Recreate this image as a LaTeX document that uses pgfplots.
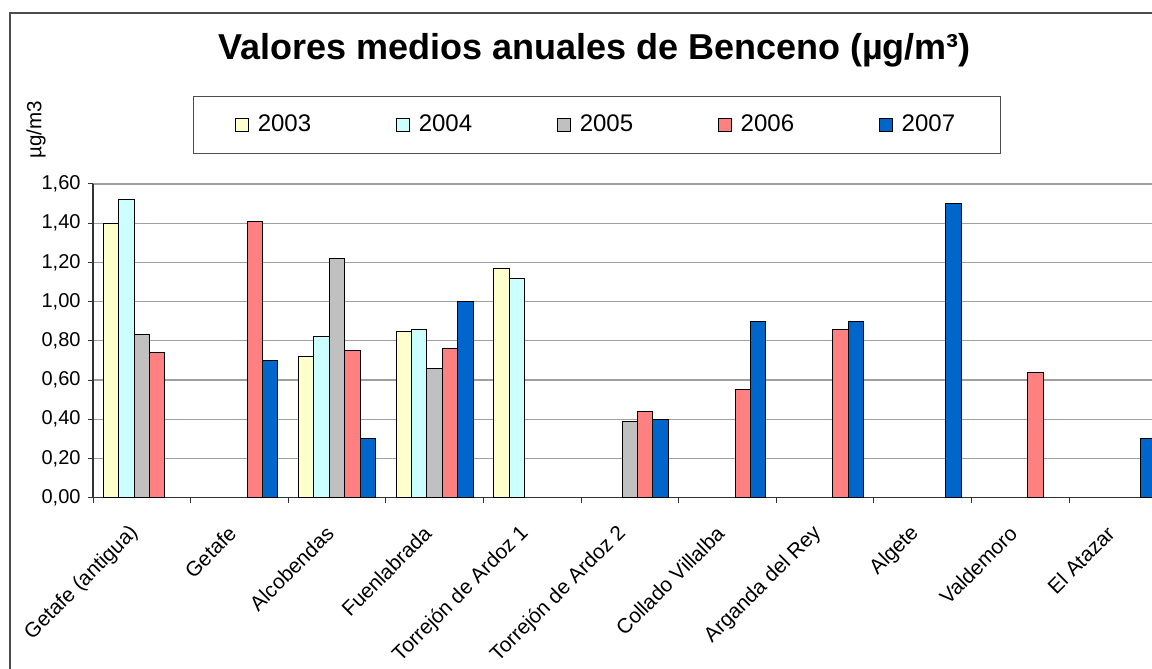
\documentclass[border=0pt]{standalone}
\usepackage{pgfplots}
\pgfplotsset{compat=1.18}
\usepackage{fontspec}
\setmainfont{Liberation Sans}
\definecolor{c03}{HTML}{FFFFCC}
\definecolor{c04}{HTML}{CCFFFF}
\definecolor{c05}{HTML}{C0C0C0}
\definecolor{c06}{HTML}{FF8080}
\definecolor{c07}{HTML}{0066CC}
\definecolor{gridc}{HTML}{A0A0A0}
\definecolor{framec}{HTML}{4D4D4D}
\pgfplotsset{sqlegend/.style={legend image code/.code={\draw[##1,draw=black,line width=0.5pt] (0pt,-3.2pt) rectangle (6.4pt,3.2pt);}}}
\begin{document}
\begin{tikzpicture}
\path[use as bounding box] (0,0) rectangle (576pt,334.5pt);
\clip (0,0) rectangle (576pt,334.5pt);
\begin{scope}[x=0.5pt,y=0.5pt]
 \fill[white] (0,0) rectangle (1152,669);
 \draw[framec, line width=0.6pt] (10,-20) -- (10,656) -- (1200,656);
 \node[font=\bfseries\fontsize{18}{20}\selectfont, anchor=base] at (594.5,609) {Valores medios anuales de Benceno (µg/m³)};
 \node[rotate=90, font=\fontsize{10.3}{12}\selectfont] at (36,539) {µg/m3};
\end{scope}
\begin{axis}[
  at={(46.5pt,85.65pt)}, anchor=south west,
  scale only axis, width=536.8pt, height=156.85pt,
  xmin=-0.5, xmax=10.5, ymin=0, ymax=1.6,
  ybar=0pt, bar width=0.158,
  axis lines*=left,
  axis line style={black!80, line width=0.6pt},
  tick align=outside,
  xtick={0,...,10},
  xticklabels={Getafe (antigua),Getafe,Alcobendas,Fuenlabrada,Torrejón de Ardoz 1,Torrejón de Ardoz 2,Collado Villalba,Arganda del Rey,Algete,Valdemoro,El Atazar},
  major x tick style={draw=none},
  minor xtick={-0.5,0.5,...,10.5},
  minor tick length=2.5pt,
  minor x tick style={black!80, line width=0.5pt},
  major tick length=2.7pt,
  ytick={0,0.2,0.4,0.6,0.8,1.0,1.2,1.4,1.6},
  y tick style={black!80, line width=0.5pt},
  ymajorgrids,
  grid style={gridc, line width=0.6pt},
  xticklabel style={xshift=-1pt, yshift=-11pt, rotate=45, anchor=east, font=\fontsize{10.4}{12}\selectfont},
  yticklabel style={font=\fontsize{10}{12}\selectfont},
  /pgf/number format/assume math mode=true,
  yticklabel={\pgfmathprintnumber[fixed,fixed zerofill,precision=2,use comma]{\tick}},
  legend columns=5,
  legend style={at={(0.4695,1.188)}, anchor=center, draw=framec, line width=0.5pt,
    font=\fontsize{12}{14}\selectfont, inner xsep=20.5pt, inner ysep=7.3pt,
    /tikz/every odd column/.append style={column sep=2.5pt},
    /tikz/every even column/.append style={column sep=40.4pt}},
]
\addplot[draw=black, line width=0.5pt, fill=c03, sqlegend] coordinates {(0,1.40) (2,0.72) (3,0.85) (4,1.17)};
\addplot[draw=black, line width=0.5pt, fill=c04, sqlegend] coordinates {(0,1.52) (2,0.82) (3,0.86) (4,1.12)};
\addplot[draw=black, line width=0.5pt, fill=c05, sqlegend] coordinates {(0,0.83) (2,1.22) (3,0.66) (5,0.39)};
\addplot[draw=black, line width=0.5pt, fill=c06, sqlegend] coordinates {(0,0.74) (1,1.41) (2,0.75) (3,0.76) (5,0.44) (6,0.55) (7,0.86) (9,0.64)};
\addplot[draw=black, line width=0.5pt, fill=c07, sqlegend] coordinates {(1,0.70) (2,0.30) (3,1.00) (5,0.40) (6,0.90) (7,0.90) (8,1.50) (10,0.30)};
\legend{2003,2004,2005,2006,2007}
\end{axis}
\end{tikzpicture}
\end{document}
